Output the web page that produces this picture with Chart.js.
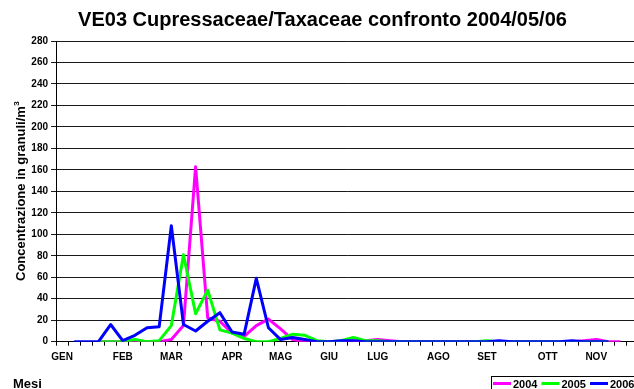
<!DOCTYPE html>
<html>
<head>
<meta charset="utf-8">
<script src="https://cdn.jsdelivr.net/npm/chart.js@4.4.1/dist/chart.umd.min.js"></script>
<style>
  html, body { margin: 0; padding: 0; background: #fff; overflow: hidden; }
  #wrap { width: 645px; height: 389px; }
</style>
</head>
<body>
<div id="wrap"><canvas id="c" width="645" height="389"></canvas></div>
<script>
// Weekly Cupressaceae/Taxaceae counts (granuli/m3), station VE03
const months = ['GEN', 'FEB', 'MAR', 'APR', 'MAG', 'GIU', 'LUG', 'AGO', 'SET', 'OTT', 'NOV'];
const monthFirstWeek = [0, 5, 9, 14, 18, 22, 26, 31, 35, 40, 44];
const weekCount = 48;

const s2004 = [null, null, null, 0, 0, 0, 0, 0, 0, 2, 15, 163, 22, 19, 8, 5, 15, 21, 12, 2,
               0, 0, 0, 0, 1, 1, 2, 1, 0, 0, 0, 0, 0, 0, 0, 0, 0, 0, 0, 0,
               0, 0, 0, 1, 2, 0, 0, null];
const s2005 = [null, null, null, 0, 0, 0, 2, 0, 1, 15, 81, 26, 48, 11, 8, 3, 0, 0, 3, 7,
               6, 1, 0, 1, 4, 1, 1, 0, 0, 0, 0, 0, 0, 0, 0, 1, 0, 0, 0, 0,
               0, 0, 0, 0, 0, 0, null, null];
const s2006 = [null, 0, 0, 0, 16, 1, 6, 13, 14, 108, 16, 10, 19, 27, 9, 7, 59, 13, 2, 4,
               2, 0, 0, 1, 1, 0, 0, 0, 0, 0, 0, 0, 0, 0, 0, 0, 1, 0, 0, 0,
               0, 0, 1, 0, 0, 0, null, null];

const seriesNames = ['2004', '2005', '2006'];
const seriesColors = ['#FF00FF', '#00FF00', '#0000FF'];

const yMax = 280;
const yStep = 20;

const titleText = 'VE03 Cupressaceae/Taxaceae confronto 2004/05/06';
const yTitleText = 'Concentrazione in granuli/m';
const yTitleSup = '3';
const xTitleText = 'Mesi';

// one label slot per week, month name on the first week of each month
const weekLabels = Array.from({ length: weekCount }, () => '');
monthFirstWeek.forEach((w, k) => { weekLabels[w] = months[k]; });

const FONT = '"Liberation Sans", Arial, sans-serif';

// titles, axis captions and the legend box along the bottom edge
const decor = {
  id: 'decor',
  afterDraw(chart) {
    const ctx = chart.ctx;
    const area = chart.chartArea;
    ctx.save();
    ctx.fillStyle = '#000';

    ctx.font = 'bold 20px ' + FONT;
    ctx.textAlign = 'center';
    ctx.textBaseline = 'alphabetic';
    ctx.fillText(titleText, chart.width / 2, 26);

    // vertical axis caption with superscript
    ctx.save();
    ctx.translate(25, (area.top + area.bottom) / 2);
    ctx.rotate(-Math.PI / 2);
    ctx.font = 'bold 13px ' + FONT;
    const w1 = ctx.measureText(yTitleText).width;
    ctx.font = 'bold 8px ' + FONT;
    const w2 = ctx.measureText(yTitleSup).width;
    const start = -(w1 + w2) / 2;
    ctx.textAlign = 'left';
    ctx.font = 'bold 13px ' + FONT;
    ctx.fillText(yTitleText, start, 0);
    ctx.font = 'bold 8px ' + FONT;
    ctx.fillText(yTitleSup, start + w1 + 0.5, -6);
    ctx.restore();

    ctx.font = 'bold 13px ' + FONT;
    ctx.textAlign = 'left';
    ctx.fillText(xTitleText, 13, 387.5);

    // legend
    ctx.strokeStyle = '#000';
    ctx.lineWidth = 1;
    ctx.strokeRect(491.5, 376.5, 220, 30);
    ctx.font = 'bold 11px ' + FONT;
    chart.data.datasets.forEach((ds, k) => {
      const x0 = 493 + k * 48.5;
      ctx.strokeStyle = ds.borderColor;
      ctx.lineWidth = 3;
      ctx.beginPath();
      ctx.moveTo(x0, 383.5);
      ctx.lineTo(x0 + 18, 383.5);
      ctx.stroke();
      ctx.fillStyle = '#000';
      ctx.fillText(ds.label, x0 + 20, 387.5);
    });
    ctx.restore();
  }
};

const seriesData = [s2004, s2005, s2006];

new Chart(document.getElementById('c'), {
  type: 'line',
  data: {
    labels: weekLabels,
    datasets: seriesData.map((d, k) => ({
      label: seriesNames[k],
      data: d,
      borderColor: seriesColors[k],
      backgroundColor: seriesColors[k],
      borderWidth: 3,
      pointRadius: 0,
      tension: 0,
      fill: false,
      spanGaps: false,
      borderJoinStyle: 'round',
      order: 2 - k
    }))
  },
  options: {
    responsive: false,
    animation: false,
    events: [],
    layout: { padding: { top: 41, left: 0, right: 6.3, bottom: 27.3 } },
    plugins: {
      legend: { display: false },
      title: { display: false },
      tooltip: { enabled: false }
    },
    scales: {
      x: {
        type: 'category',
        offset: true,
        afterFit(scale) { scale.height = 20; },
        grid: {
          offset: true,
          drawOnChartArea: false,
          drawTicks: true,
          tickLength: 4,
          color: '#000',
          lineWidth: 1
        },
        border: { display: true, color: '#000', width: 1 },
        ticks: {
          autoSkip: false,
          maxRotation: 0,
          minRotation: 0,
          padding: 6,
          color: '#000',
          font: { family: FONT, size: 10, weight: 'bold' }
        }
      },
      y: {
        min: 0,
        max: yMax,
        afterFit(scale) { scale.width = 56; },
        grid: {
          color: '#1a1a1a',
          lineWidth: 1,
          drawTicks: true,
          tickLength: 5
        },
        border: { display: true, color: '#000', width: 1 },
        ticks: {
          stepSize: yStep,
          padding: 3,
          color: '#000',
          font: { family: FONT, size: 10, weight: 'bold' }
        }
      }
    }
  },
  plugins: [decor]
});
</script>
</body>
</html>
